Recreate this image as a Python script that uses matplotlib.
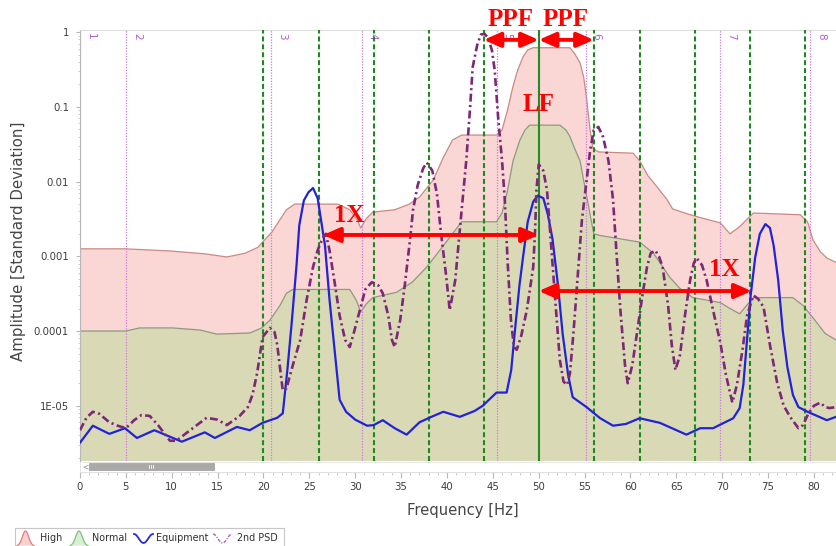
import matplotlib
matplotlib.use("Agg")
import numpy as np
import matplotlib.pyplot as plt
from matplotlib.patches import Rectangle, Polygon
from matplotlib.lines import Line2D
from matplotlib.ticker import FixedLocator, FixedFormatter, MultipleLocator, LogLocator, NullFormatter

# ---------------- data ----------------
high_freq = [0.0, 4.9, 9.8, 13.6, 16.0, 18.0, 19.4, 20.1, 20.9, 21.8, 22.5, 23.4, 28.1, 29.4,
             30.2, 30.6, 31.2, 31.9, 34.3, 35.9, 37.0, 38.5, 39.6, 40.6, 41.6, 45.4, 46.0, 46.6,
             47.2, 47.7, 48.3, 48.8, 49.4, 53.4, 53.9, 54.5, 54.9, 55.2, 55.6, 55.9, 56.5, 60.3,
             61.0, 61.9, 62.9, 64.0, 64.6, 66.2, 67.6, 69.8, 70.85, 71.9, 73.4, 78.5, 79.3, 79.9,
             80.7, 81.4, 82.4]
high_amp = [1.26e-3, 1.26e-3, 1.18e-3, 1.08e-3, 9.8e-4, 1.10e-3, 1.32e-3, 1.65e-3, 2.1e-3,
            3.1e-3, 4.2e-3, 5.0e-3, 5.0e-3, 4.2e-3, 3.1e-3, 2.4e-3, 3.2e-3, 3.9e-3, 4.2e-3,
            5.0e-3, 6.2e-3, 1.05e-2, 2.1e-2, 3.6e-2, 4.2e-2, 4.2e-2, 4.9e-2, 9.1e-2, 0.19, 0.31,
            0.47, 0.58, 0.62, 0.62, 0.52, 0.39, 0.25, 0.135, 0.049, 0.028, 0.025, 0.024, 0.019,
            0.012, 8.5e-3, 5.7e-3, 4.3e-3, 3.7e-3, 3.3e-3, 2.8e-3, 2.0e-3, 2.5e-3, 3.8e-3,
            3.6e-3, 2.9e-3, 1.65e-3, 1.15e-3, 9.5e-4, 8.3e-4]

normal_freq = [0.0, 5.0, 6.5, 10.1, 13.1, 14.9, 18.5, 19.8, 20.7, 21.8, 22.5, 23.2, 29.4, 30.1,
               30.6, 31.2, 31.9, 34.5, 36.2, 37.8, 39.2, 40.6, 41.6, 45.4, 46.0, 46.6, 47.2,
               47.95, 48.5, 49.0, 52.3, 52.97, 53.4, 53.9, 54.5, 55.0, 55.6, 56.0, 56.7, 61.0,
               62.5, 63.4, 64.3, 65.4, 66.8, 69.8, 70.85, 71.9, 72.8, 73.4, 77.7, 78.8, 79.9,
               81.2, 82.4]
normal_amp = [1.0e-4, 1.0e-4, 1.1e-4, 1.1e-4, 1.03e-4, 9.1e-5, 9.4e-5, 1.1e-4, 1.4e-4, 2.2e-4,
              3.2e-4, 3.6e-4, 3.6e-4, 2.6e-4, 1.8e-4, 2.3e-4, 2.8e-4, 3.3e-4, 4.5e-4, 7.2e-4,
              1.2e-3, 2.0e-3, 2.9e-3, 2.9e-3, 3.8e-3, 7.6e-3, 0.019, 0.036, 0.049, 0.057, 0.057,
              0.049, 0.040, 0.028, 0.019, 8.9e-3, 3.6e-3, 2.0e-3, 1.9e-3, 1.55e-3, 1.1e-3,
              7.6e-4, 5.2e-4, 3.7e-4, 2.8e-4, 2.4e-4, 2.0e-4, 1.7e-4, 2.3e-4, 2.8e-4, 2.8e-4,
              2.2e-4, 1.5e-4, 9.3e-5, 7.6e-5]

equip_freq = [0.0, 1.4, 3.2, 4.9, 6.2, 8.1, 11.1, 13.6, 14.7, 17.1, 18.5, 19.9, 21.5, 22.1, 22.6,
              23.1, 23.6, 23.9, 24.4, 24.9, 25.4, 25.9, 26.3, 26.7, 27.2, 27.7, 28.3, 29.0, 30.0,
              31.3, 32.0, 33.0, 34.3, 35.6, 37.0, 38.3, 39.6, 41.4, 43.0, 43.9, 45.4, 46.5, 47.0,
              47.4, 47.9, 48.3, 48.8, 49.4, 49.9, 50.5, 51.0, 51.5, 52.1, 52.6, 53.2, 53.7, 55.2,
              56.7, 58.1, 59.5, 61.0, 63.2, 66.1, 67.6, 69.0, 71.2, 71.9, 72.3, 72.7, 73.1, 73.6,
              74.1, 74.7, 75.2, 75.6, 76.1, 76.6, 77.1, 77.7, 78.3, 79.3, 81.4, 82.4]
equip_amp = [3.2e-6, 5.4e-6, 4.2e-6, 5.0e-6, 3.7e-6, 4.7e-6, 3.3e-6, 4.4e-6, 3.7e-6, 5.2e-6,
             4.7e-6, 5.9e-6, 6.9e-6, 7.9e-6, 3.0e-5, 1.4e-4, 7.6e-4, 2.6e-3, 5.6e-3, 7.2e-3,
             8.2e-3, 6.0e-3, 2.9e-3, 1.4e-3, 2.6e-4, 6.4e-5, 1.2e-5, 8.3e-6, 6.5e-6, 5.4e-6,
             5.5e-6, 6.4e-6, 5.0e-6, 4.1e-6, 6.0e-6, 7.1e-6, 8.3e-6, 7.1e-6, 8.5e-6, 1.0e-5,
             1.5e-5, 1.5e-5, 3.0e-5, 1.0e-4, 4.1e-4, 1.0e-3, 2.9e-3, 5.4e-3, 6.5e-3, 6.0e-3,
             3.6e-3, 1.7e-3, 4.1e-4, 9.3e-5, 2.6e-5, 1.3e-5, 9.6e-6, 6.8e-6, 5.4e-6, 5.7e-6,
             6.8e-6, 5.9e-6, 4.1e-6, 5.0e-6, 5.0e-6, 6.8e-6, 9.3e-6, 1.9e-5, 7.6e-5, 3.0e-4,
             9.8e-4, 2.0e-3, 2.7e-3, 2.4e-3, 1.4e-3, 4.8e-4, 1.0e-4, 3.3e-5, 1.4e-5, 9.6e-6,
             8.3e-6, 6.4e-6, 7.1e-6]

psd_freq = [0.0, 0.7, 1.4, 2.1, 3.2, 4.1, 5.0, 5.9, 6.7, 7.6, 8.5, 9.8, 10.5, 12.0, 13.8, 15.0,
            16.0, 17.4, 18.3, 18.8, 19.3, 19.9, 20.7, 21.2, 21.5, 22.1, 22.5, 23.2, 24.0, 24.7,
            25.4, 25.9, 26.4, 26.8, 27.2, 27.8, 28.3, 28.9, 29.4, 29.9, 30.5, 31.1, 31.8, 32.5,
            33.0, 33.6, 34.0, 34.3, 34.9, 35.4, 36.0, 36.3, 36.8, 37.4, 37.8, 38.4, 38.9, 39.4,
            39.9, 40.3, 40.9, 41.6, 42.1, 42.5, 42.8, 43.3, 43.7, 44.1, 44.5, 44.9, 45.2, 45.6,
            46.0, 46.3, 46.6, 46.97, 47.3, 47.6, 48.1, 48.7, 49.4, 49.6, 49.75, 50.0, 50.5, 50.9,
            51.3, 51.8, 52.3, 52.7, 53.1, 53.4, 53.8, 54.3, 54.7, 55.2, 55.6, 56.0, 56.5, 57.0,
            57.6, 58.1, 58.5, 58.9, 59.4, 59.7, 60.2, 60.7, 61.3, 61.8, 62.2, 62.7, 63.1, 63.5,
            64.1, 64.5, 64.9, 65.4, 65.9, 66.5, 66.9, 67.2, 67.8, 68.3, 69.0, 69.8, 70.4, 71.1,
            71.6, 72.2, 72.7, 73.4, 73.9, 74.5, 75.2, 76.0, 76.7, 77.4, 78.3, 78.8, 79.4, 80.0,
            80.7, 81.2, 81.7, 82.4]
psd_amp = [4.7e-6, 6.9e-6, 8.3e-6, 7.8e-6, 6.0e-6, 5.4e-6, 5.0e-6, 6.4e-6, 7.5e-6, 7.3e-6,
           5.5e-6, 3.4e-6, 3.4e-6, 4.7e-6, 6.9e-6, 6.5e-6, 5.5e-6, 7.3e-6, 9.6e-6, 1.4e-5,
           2.7e-5, 8.3e-5, 1.1e-4, 9.7e-5, 6.5e-5, 1.6e-5, 1.7e-5, 3.5e-5, 7.6e-5, 2.6e-4,
           7.2e-4, 1.2e-3, 1.7e-3, 2.0e-3, 1.2e-3, 4.1e-4, 1.6e-4, 7.6e-5, 6.1e-5, 1.0e-4,
           1.9e-4, 3.6e-4, 4.5e-4, 4.1e-4, 3.2e-4, 1.6e-4, 7.6e-5, 6.1e-5, 1.4e-4, 4.1e-4,
           1.8e-3, 4.2e-3, 8.9e-3, 1.5e-2, 1.8e-2, 1.4e-2, 6.9e-3, 1.8e-3, 5.6e-4, 1.9e-4,
           4.8e-4, 4.2e-3, 1.9e-2, 9.1e-2, 0.34, 0.68, 0.93, 0.95, 0.83, 0.57, 0.31, 0.066,
           0.019, 5.7e-3, 8.9e-4, 1.4e-4, 6.1e-5, 5.6e-5, 8.7e-5, 1.9e-4, 7.2e-4, 2.2e-3,
           7.7e-3, 1.7e-2, 1.4e-2, 7.7e-3, 1.7e-3, 2.6e-4, 4.1e-5, 2.1e-5, 1.9e-5, 2.7e-5,
           1.0e-4, 6.5e-4, 3.0e-3, 1.0e-2, 2.6e-2, 0.049, 0.054, 0.040, 0.019, 5.7e-3, 1.0e-3,
           1.9e-4, 3.5e-5, 2.0e-5, 3.5e-5, 9.3e-5, 3.0e-4, 7.2e-4, 1.1e-3, 1.2e-3, 1.0e-3,
           7.2e-4, 2.2e-4, 6.5e-5, 3.0e-5, 4.8e-5, 1.5e-4, 4.8e-4, 8.1e-4, 9.5e-4, 7.6e-4,
           4.8e-4, 1.9e-4, 6.9e-5, 2.6e-5, 1.1e-5, 1.9e-5, 5.5e-5, 1.6e-4, 3.0e-4, 2.7e-4,
           2.1e-4, 6.5e-5, 2.0e-5, 1.0e-5, 7.1e-6, 5.0e-6, 5.5e-6, 7.9e-6, 1.0e-5, 1.1e-5,
           9.6e-6, 9.3e-6, 9.6e-6]

# frequency markers
dashed_freqs = [20, 26, 32, 38, 44, 56, 61, 67, 73, 79]
line_freq = 50
cursor_freqs = [0.0, 5.0, 20.8, 30.7, 45.4, 55.1, 69.8, 79.6]
cursor_labels = ["1", "2", "3", "4", "5", "6", "7", "8"]

# axis ticks
xtick_values = list(range(0, 85, 5))
ytick_values = [1e-5, 1e-4, 1e-3, 1e-2, 1e-1, 1]
ytick_labels = ["1E-05", "0.0001", "0.001", "0.01", "0.1", "1"]

# annotations: (start Hz, end Hz, level)
ppf_spans = [(44, 50, 0.79), (50, 56, 0.79)]
onex_spans = [(26.5, 50, 1.93e-3), (50, 73.2, 3.43e-4)]

# ---------------- figure ----------------
W, H = 836, 546
fig = plt.figure(figsize=(W / 100, H / 100), dpi=100)
fig.patch.set_facecolor("white")


def fx(px):
    return px / W


def fy(py):
    return 1 - py / H


ax = fig.add_axes([fx(80), fy(461), 1 - fx(80), (461 - 29.5) / H])
ax.set_yscale("log")
ax.set_xlim(0, 82.4)
ax.set_ylim(1.82e-6, 1.087)
ymin = ax.get_ylim()[0]

# bands
ax.fill_between(high_freq, high_amp, ymin, facecolor="#fad6d5", edgecolor="none", zorder=1)
ax.plot(high_freq, high_amp, color="#c98a84", lw=0.9, zorder=1.1)
ax.fill_between(normal_freq, normal_amp, ymin, facecolor="#dad9b6", edgecolor="none", zorder=1.2)
ax.plot(normal_freq, normal_amp, color="#8d9a80", lw=0.9, zorder=1.3)

# marker lines
for f in cursor_freqs:
    ax.axvline(f, color="#cc78dc", lw=0.9, ls=(0, (1, 1.2)), zorder=2)
for f, lab in zip(cursor_freqs, cursor_labels):
    ax.annotate(lab, xy=(f, 1), xycoords=("data", "axes fraction"),
                xytext=(4.3, -2.2), textcoords="offset points",
                rotation=-90, ha="left", va="top", fontsize=7.5,
                color="#b25ad2", zorder=2.5, annotation_clip=False)
for f in dashed_freqs:
    ax.axvline(f, color="#1c8a1c", lw=1.5, ls=(0, (2.4, 1.4)), zorder=3)
ax.axvline(line_freq, color="#238b23", lw=1.5, zorder=3)

# spectra
ax.plot(equip_freq, equip_amp, color="#2222d6", lw=1.6, zorder=5)
ax.plot(psd_freq, psd_amp, color="#7c2877", lw=1.9, ls=(0, (3.0, 1.3, 0.8, 1.3)), zorder=6)

# axes styling
for side in ("right",):
    ax.spines[side].set_visible(False)
ax.spines["top"].set_color("#dcdcdc")
ax.spines["top"].set_linewidth(0.8)
ax.spines["left"].set_color("#b8b8b8")
ax.spines["left"].set_linewidth(0.8)
ax.spines["bottom"].set_position(("outward", 8))
ax.spines["bottom"].set_color("#c4c4c4")
ax.spines["bottom"].set_linewidth(0.8)

ax.xaxis.set_major_locator(FixedLocator(xtick_values))
ax.xaxis.set_minor_locator(MultipleLocator(1))
ax.yaxis.set_major_locator(FixedLocator(ytick_values))
ax.yaxis.set_major_formatter(FixedFormatter(ytick_labels))
ax.yaxis.set_minor_locator(LogLocator(base=10, subs=np.arange(2, 10)))
ax.yaxis.set_minor_formatter(NullFormatter())
ax.tick_params(axis="x", which="major", length=4, width=0.8, color="#b8b8b8",
               labelsize=7.3, labelcolor="#3c3c3c", pad=3)
ax.tick_params(axis="x", which="minor", length=2.2, width=0.6, color="#c4c4c4")
ax.tick_params(axis="y", which="major", length=3, width=0.8, color="#b8b8b8",
               labelsize=7.3, labelcolor="#3c3c3c", pad=5)
ax.tick_params(axis="y", which="minor", length=1.6, width=0.6, color="#c8c8c8")
for lab in ax.get_xticklabels() + ax.get_yticklabels():
    lab.set_family("DejaVu Sans")

fig.text(fx(463), fy(510), "Frequency [Hz]", ha="center", va="center",
         fontsize=10.6, color="#454545")
fig.text(fx(19), fy(241), "Amplitude [Standard Deviation]", ha="center", va="center",
         rotation=90, fontsize=10.8, color="#454545")

# red annotations
arrow_kw = dict(arrowstyle="<|-|>,head_length=0.5,head_width=0.22", color="#ff0000",
                lw=2.8, mutation_scale=20, shrinkA=0, shrinkB=0)
for a, b, lvl in ppf_spans + onex_spans:
    ax.annotate("", xy=(b, lvl), xytext=(a, lvl), arrowprops=arrow_kw,
                zorder=8, annotation_clip=False)

red_font = dict(family="Liberation Serif", weight="bold", color="#ff0000", fontsize=18,
                ha="center", va="center", zorder=9)
ax.text(46.97, 1.46, "PPF", clip_on=False, **red_font)
ax.text(52.96, 1.46, "PPF", clip_on=False, **red_font)
ax.text(50.0, 0.109, "LF", **red_font)
ax.text(29.4, 3.47e-3, "1X", **red_font)
ax.text(70.2, 6.6e-4, "1X", **red_font)

# scrollbar under the plot area
fig.patches.append(Rectangle((fx(80), fy(472)), 1 - fx(80), 10.5 / H, transform=fig.transFigure,
                             facecolor="white", edgecolor="#e2e2e2", lw=0.6, zorder=1))
fig.patches.append(Rectangle((fx(89), fy(470)), fx(214) - fx(89), 7.5 / H,
                             transform=fig.transFigure, facecolor="#a9a9a9",
                             edgecolor="#9c9c9c", lw=0.5, zorder=2))
for gx in (148.5, 150.5, 152.5):
    fig.lines.append(Line2D([fx(gx), fx(gx)], [fy(464.5), fy(467.8)], transform=fig.transFigure,
                            color="#eeeeee", lw=0.7, zorder=3))
fig.text(fx(85), fy(466.5), "<", fontsize=5.5, color="#8a8a8a", ha="center", va="center")

# legend strip
fig.patches.append(Rectangle((fx(15), fy(548)), fx(284) - fx(15), 20 / H,
                             transform=fig.transFigure, facecolor="white",
                             edgecolor="#c6c6c6", lw=0.8, zorder=1))


def bell(x0, x1, fc, ec):
    t = np.linspace(-1, 1, 40)
    xs = x0 + (t + 1) / 2 * (x1 - x0)
    ys = 546 - 15 * np.exp(-(t * 1.9) ** 2)
    pts = np.column_stack([fx(xs), fy(ys)])
    fig.patches.append(Polygon(pts, closed=True, transform=fig.transFigure,
                               facecolor=fc, edgecolor="none", zorder=2))
    fig.lines.append(Line2D(fx(xs), fy(ys), transform=fig.transFigure, color=ec,
                            lw=0.9, zorder=3))


def wave(x0, x1, color, ls, lw):
    t = np.linspace(0, 1, 40)
    xs = x0 + t * (x1 - x0)
    ys = 538.5 - 4.5 * np.cos(2 * np.pi * t)
    fig.lines.append(Line2D(fx(xs), fy(ys), transform=fig.transFigure, color=color,
                            lw=lw, ls=ls, zorder=3))


bell(17, 34, "#f9d0d0", "#e07c7c")
bell(70, 88, "#d9eed2", "#80bf80")
wave(134, 153, "#2a2ad8", "-", 1.3)
wave(213, 232, "#b463b4", (0, (2.5, 1, 0.8, 1)), 1.0)
leg_font = dict(fontsize=6.9, color="#303030", ha="left", va="center", family="DejaVu Sans")
fig.text(fx(40), fy(538), "High", **leg_font)
fig.text(fx(92), fy(538), "Normal", **leg_font)
fig.text(fx(156), fy(538), "Equipment", **leg_font)
fig.text(fx(237), fy(538), "2nd PSD", **leg_font)

fig.savefig("out.png", dpi=100, facecolor="white")
